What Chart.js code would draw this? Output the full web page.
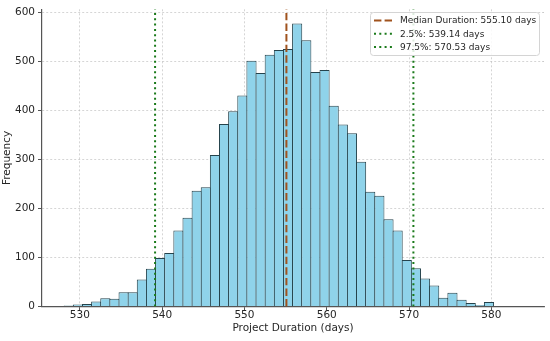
<!DOCTYPE html>
<html>
<head>
<meta charset="utf-8">
<script src="https://cdn.jsdelivr.net/npm/chart.js@4.4.1/dist/chart.umd.min.js"></script>
<style>
html,body{margin:0;padding:0;background:#fff;}
#wrap{width:550px;height:341px;position:relative;}
</style>
</head>
<body>
<div id="wrap"><canvas id="c"></canvas></div>
<script>
// ---- data ----
const binStart = 528.1;          // left edge of first bin (days)
const binWidth = 1.11;           // bin width (days)
const counts = [2,4,5,10,17,16,29,29,55,77,
                99,109,155,181,236,243,309,372,398,430,
                501,476,513,523,525,577,543,478,482,409,
                371,353,295,234,226,178,155,95,78,57,
                43,18,28,14,7,3,9,1,0,1];
const statLabels = ['Median Duration: 555.10 days', '2.5%: 539.14 days', '97.5%: 570.53 days'];
const statValues = [555.10, 539.14, 570.53];
const xTicks = [530,540,550,560,570,580];
const yTicks = [0,100,200,300,400,500,600];
const xRange = [525.4, 586.4];
const yRange = [0, 605.85];

const binCenters = counts.map((_, i) => binStart + binWidth * (i + 0.5));
const barData = counts.map((c, i) => ({x: binCenters[i], y: c}));

const lineStyles = [
  {color: '#a0521d', dash: [7.4, 3.2]},
  {color: '#1a7a1a', dash: [2, 3.3]},
  {color: '#1a7a1a', dash: [2, 3.3]}
];

const FONT = 'DejaVu Sans';
const AXIS = '#555555';
const TEXT = '#262626';

const vlineSets = statValues.map((v, i) => ({
  type: 'line',
  label: statLabels[i],
  data: [{x: v, y: yRange[0]}, {x: v, y: yRange[1]}],
  borderColor: lineStyles[i].color,
  borderDash: lineStyles[i].dash,
  borderWidth: 2,
  pointRadius: 0,
  fill: false,
  order: 0
}));

const legendPlugin = {
  id: 'mplLegend',
  afterDraw(chart) {
    const ctx = chart.ctx;
    const x0 = 370.5, y0 = 12.5, w = 169, h = 43;
    ctx.save();
    ctx.beginPath();
    const r = 3;
    ctx.moveTo(x0 + r, y0);
    ctx.arcTo(x0 + w, y0, x0 + w, y0 + h, r);
    ctx.arcTo(x0 + w, y0 + h, x0, y0 + h, r);
    ctx.arcTo(x0, y0 + h, x0, y0, r);
    ctx.arcTo(x0, y0, x0 + w, y0, r);
    ctx.closePath();
    ctx.fillStyle = 'rgba(255,255,255,0.85)';
    ctx.fill();
    ctx.strokeStyle = '#d4d4d4';
    ctx.lineWidth = 1;
    ctx.stroke();
    ctx.font = '9px "' + FONT + '"';
    ctx.textBaseline = 'middle';
    ctx.fillStyle = TEXT;
    statLabels.forEach((lab, i) => {
      const cy = 20.5 + i * 13.3;
      ctx.beginPath();
      ctx.setLineDash(lineStyles[i].dash);
      ctx.strokeStyle = lineStyles[i].color;
      ctx.lineWidth = 2;
      ctx.moveTo(374, cy);
      ctx.lineTo(392, cy);
      ctx.stroke();
      ctx.setLineDash([]);
      ctx.fillText(lab, 400, cy + 0.5);
    });
    ctx.restore();
  }
};

new Chart(document.getElementById('c'), {
  type: 'bar',
  data: {
    datasets: [
      ...vlineSets,
      {
        type: 'bar',
        label: 'Frequency',
        data: barData,
        backgroundColor: '#8fd3ea',
        borderColor: '#25434c',
        borderWidth: {top: 1, left: 1, right: 1, bottom: 0},
        borderSkipped: false,
        categoryPercentage: 1,
        barPercentage: 1.11,
        order: 1
      }
    ]
  },
  options: {
    responsive: true,
    maintainAspectRatio: false,
    animation: false,
    events: [],
    layout: {padding: {top: 7.6, right: 6, left: 0, bottom: 0}},
    plugins: {legend: {display: false}, tooltip: {enabled: false}},
    scales: {
      x: {
        type: 'linear',
        offset: false,
        min: xRange[0], max: xRange[1],
        afterBuildTicks: s => { s.ticks = xTicks.map(v => ({value: v})); },
        afterFit: s => { s.height = 34.5; },
        grid: {offset: false, color: 'rgba(180,180,180,0.7)', lineWidth: 0.8, tickColor: AXIS, tickLength: 4, tickWidth: 1, tickBorderDash: []},
        border: {display: true, color: AXIS, width: 1.2, dash: [2, 2]},
        ticks: {color: TEXT, font: {family: FONT, size: 10.5}, padding: -1.5, maxRotation: 0, autoSkip: false},
        title: {display: true, text: 'Project Duration (days)', color: TEXT, font: {family: FONT, size: 10.5}, padding: {top: 0, bottom: 6.2}}
      },
      y: {
        type: 'linear',
        offset: false,
        min: yRange[0], max: yRange[1],
        afterBuildTicks: s => { s.ticks = yTicks.map(v => ({value: v})); },
        afterFit: s => { s.width = 42; },
        grid: {offset: false, color: 'rgba(180,180,180,0.7)', lineWidth: 0.8, tickColor: AXIS, tickLength: 4, tickWidth: 1, tickBorderDash: []},
        border: {display: true, color: AXIS, width: 1.2, dash: [2, 2]},
        ticks: {color: TEXT, font: {family: FONT, size: 10.5}, padding: 3},
        title: {display: true, text: 'Frequency', color: TEXT, font: {family: FONT, size: 10.5}, padding: {top: 1, bottom: 0}}
      }
    }
  },
  plugins: [legendPlugin]
});
</script>
</body>
</html>
